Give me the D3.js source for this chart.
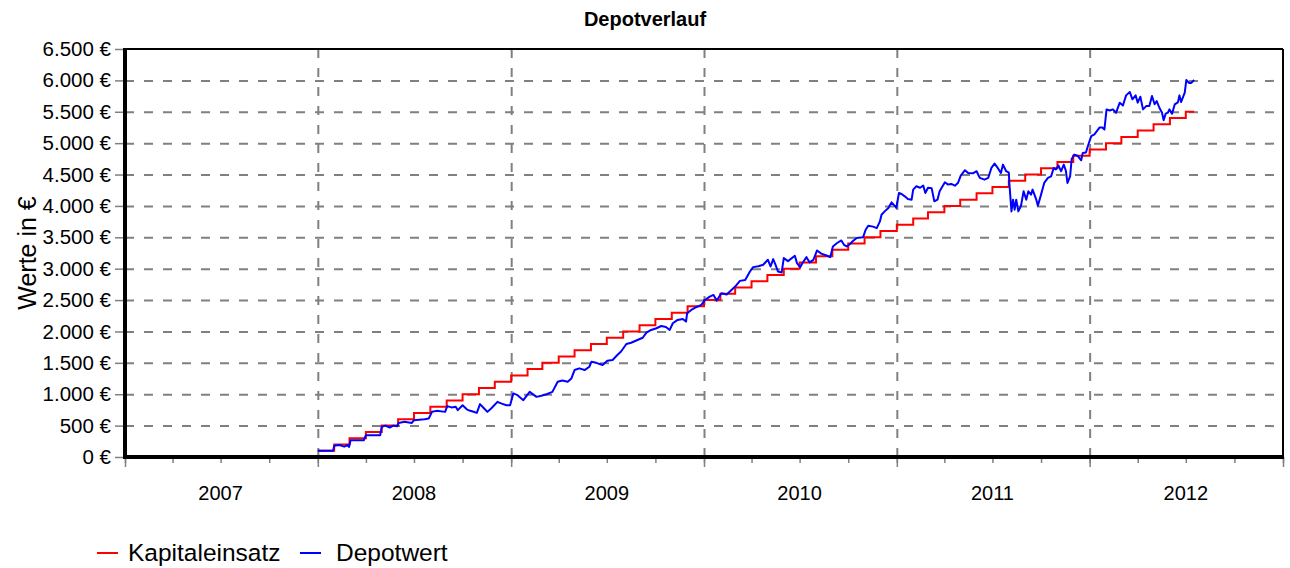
<!DOCTYPE html>
<html>
<head>
<meta charset="utf-8">
<script src="https://cdn.jsdelivr.net/npm/d3@7"></script>
<style>
  body { margin: 0; background: #fff; }
  text { font-family: Arial, "Liberation Sans", sans-serif; fill: #000; }
</style>
</head>
<body>
<div id="chart"></div>
<script>
// Kapitaleinsatz: one value per month, Jan 2008 .. Jul 2012 (100 € Sparplan)
var kapitalStart = "2008-01-01", kapitalEnde = "2012-07-17";
var kapitalWerte = [100, 200, 300, 400, 500, 600, 700, 800, 900, 1000, 1100, 1200,
    1300, 1400, 1500, 1600, 1700, 1800, 1900, 2000, 2100, 2200, 2300, 2400,
    2500, 2600, 2700, 2800, 2900, 3000, 3100, 3200, 3300, 3400, 3500, 3600,
    3700, 3800, 3900, 4000, 4100, 4200, 4300, 4400, 4500, 4600, 4700, 4800,
    4900, 5000, 5100, 5200, 5300, 5400, 5500];

// Depotwert
var depotwert = [
    ["2008-01-01", 100], ["2008-01-30", 100], ["2008-02-01", 180], ["2008-02-11", 190], ["2008-02-20", 165],
    ["2008-02-26", 190], ["2008-02-29", 160], ["2008-03-03", 267], ["2008-03-28", 267], ["2008-04-01", 347],
    ["2008-04-28", 347], ["2008-05-01", 480], ["2008-05-08", 500], ["2008-05-16", 470], ["2008-05-23", 500],
    ["2008-05-30", 490], ["2008-06-02", 543], ["2008-06-13", 560], ["2008-06-27", 543], ["2008-07-01", 586],
    ["2008-07-21", 600], ["2008-07-29", 613], ["2008-08-04", 720], ["2008-08-13", 735], ["2008-08-29", 719],
    ["2008-09-02", 810], ["2008-09-10", 790], ["2008-09-18", 800], ["2008-09-22", 746], ["2008-10-01", 825],
    ["2008-10-09", 760], ["2008-10-14", 740], ["2008-10-22", 720], ["2008-10-28", 703], ["2008-11-03", 842],
    ["2008-11-10", 780], ["2008-11-17", 719], ["2008-11-25", 780], ["2008-12-06", 879], ["2008-12-14", 850],
    ["2008-12-23", 825], ["2008-12-30", 825],
    ["2009-01-05", 1013], ["2009-01-12", 990], ["2009-01-24", 905], ["2009-02-05", 1038], ["2009-02-18", 958],
    ["2009-02-27", 975], ["2009-03-09", 1000], ["2009-03-20", 1038], ["2009-03-30", 1198], ["2009-04-08", 1220],
    ["2009-04-18", 1198], ["2009-04-25", 1252], ["2009-05-01", 1385], ["2009-05-10", 1412], ["2009-05-20", 1385],
    ["2009-05-29", 1438], ["2009-06-02", 1518], ["2009-06-11", 1500], ["2009-06-23", 1465], ["2009-07-02", 1533],
    ["2009-07-12", 1545], ["2009-07-21", 1624], ["2009-07-28", 1680], ["2009-08-07", 1800], ["2009-08-16", 1820],
    ["2009-08-28", 1864], ["2009-09-07", 1900], ["2009-09-14", 1980], ["2009-09-23", 2024], ["2009-10-03", 2051],
    ["2009-10-12", 2087], ["2009-10-21", 2070], ["2009-10-28", 2024], ["2009-11-03", 2130], ["2009-11-12", 2184],
    ["2009-11-22", 2200], ["2009-11-28", 2157], ["2009-11-30", 2290], ["2009-12-08", 2343], ["2009-12-17", 2386],
    ["2009-12-27", 2423],
    ["2010-01-03", 2503], ["2010-01-12", 2555], ["2010-01-19", 2582], ["2010-01-25", 2492], ["2010-02-03", 2609],
    ["2010-02-13", 2590], ["2010-02-22", 2662], ["2010-03-01", 2715], ["2010-03-10", 2806], ["2010-03-20", 2820],
    ["2010-03-29", 2955], ["2010-04-04", 3025], ["2010-04-14", 3040], ["2010-04-23", 3062], ["2010-05-02", 3142],
    ["2010-05-07", 3035], ["2010-05-12", 3153], ["2010-05-17", 3050], ["2010-05-21", 2955], ["2010-05-28", 2940],
    ["2010-06-01", 3169], ["2010-06-09", 3120], ["2010-06-22", 3205], ["2010-06-26", 3089], ["2010-07-02", 3025],
    ["2010-07-08", 3110], ["2010-07-14", 3184], ["2010-07-20", 3100], ["2010-07-27", 3140], ["2010-08-03", 3290],
    ["2010-08-11", 3240], ["2010-08-21", 3210], ["2010-08-28", 3184], ["2010-09-02", 3354], ["2010-09-10", 3409],
    ["2010-09-18", 3450], ["2010-09-23", 3380], ["2010-09-28", 3354], ["2010-10-04", 3390], ["2010-10-10", 3440],
    ["2010-10-17", 3488], ["2010-10-29", 3500], ["2010-11-03", 3620], ["2010-11-08", 3684], ["2010-11-17", 3670],
    ["2010-11-24", 3647], ["2010-11-30", 3753], ["2010-12-03", 3860], ["2010-12-09", 3913], ["2010-12-16", 3967],
    ["2010-12-22", 4056], ["2010-12-28", 4000], ["2010-12-31", 3967],
    ["2011-01-05", 4206], ["2011-01-10", 4190], ["2011-01-16", 4153], ["2011-01-22", 4110], ["2011-01-29", 4100],
    ["2011-02-01", 4260], ["2011-02-07", 4313], ["2011-02-14", 4290], ["2011-02-20", 4323], ["2011-02-24", 4206],
    ["2011-03-01", 4290], ["2011-03-08", 4280], ["2011-03-13", 4073], ["2011-03-19", 4100], ["2011-03-23", 4233],
    ["2011-04-02", 4377], ["2011-04-08", 4340], ["2011-04-14", 4350], ["2011-04-21", 4323], ["2011-04-27", 4370],
    ["2011-05-02", 4483], ["2011-05-10", 4569], ["2011-05-16", 4526], ["2011-05-25", 4520], ["2011-06-01", 4553],
    ["2011-06-07", 4446], ["2011-06-16", 4419], ["2011-06-23", 4446], ["2011-06-29", 4605], ["2011-07-05", 4674],
    ["2011-07-11", 4605], ["2011-07-17", 4526], ["2011-07-21", 4658], ["2011-07-27", 4553], ["2011-08-01", 4530],
    ["2011-08-02", 4366], ["2011-08-06", 3913], ["2011-08-09", 4100], ["2011-08-12", 3940], ["2011-08-15", 4100],
    ["2011-08-19", 3913], ["2011-08-24", 4000], ["2011-08-29", 4233], ["2011-09-03", 4100], ["2011-09-07", 4233],
    ["2011-09-12", 4180], ["2011-09-15", 4260], ["2011-09-22", 4100], ["2011-09-25", 4003], ["2011-10-01", 4180],
    ["2011-10-07", 4366], ["2011-10-14", 4446], ["2011-10-20", 4470], ["2011-10-25", 4605], ["2011-10-29", 4580],
    ["2011-11-03", 4642], ["2011-11-08", 4553], ["2011-11-13", 4658], ["2011-11-17", 4560], ["2011-11-20", 4366],
    ["2011-11-25", 4472], ["2011-11-28", 4749], ["2011-12-03", 4818], ["2011-12-09", 4800], ["2011-12-16", 4727],
    ["2011-12-19", 4845], ["2011-12-25", 4850], ["2011-12-29", 4962],
    ["2012-01-04", 5111], ["2012-01-10", 5140], ["2012-01-20", 5250], ["2012-01-25", 5250], ["2012-01-29", 5218],
    ["2012-02-02", 5538], ["2012-02-08", 5520], ["2012-02-14", 5538], ["2012-02-20", 5485], ["2012-02-27", 5645],
    ["2012-03-04", 5600], ["2012-03-10", 5761], ["2012-03-17", 5815], ["2012-03-22", 5698], ["2012-03-28", 5761],
    ["2012-04-01", 5645], ["2012-04-06", 5740], ["2012-04-11", 5538], ["2012-04-17", 5590], ["2012-04-23", 5590],
    ["2012-04-28", 5751], ["2012-05-03", 5620], ["2012-05-07", 5670], ["2012-05-12", 5564], ["2012-05-17", 5485],
    ["2012-05-20", 5367], ["2012-05-24", 5470], ["2012-05-28", 5485], ["2012-05-31", 5538], ["2012-06-05", 5470],
    ["2012-06-10", 5617], ["2012-06-16", 5650], ["2012-06-19", 5761], ["2012-06-22", 5655], ["2012-06-29", 5804],
    ["2012-07-02", 6006], ["2012-07-07", 5960], ["2012-07-11", 5960], ["2012-07-17", 6006]
];

var yTicks = [0, 500, 1000, 1500, 2000, 2500, 3000, 3500, 4000, 4500, 5000, 5500, 6000, 6500];
var jahre = [2007, 2008, 2009, 2010, 2011, 2012];
var legende = ["Kapitaleinsatz", "Depotwert"];
var farben = ["#ff0000", "#0000ff"];

// set the dimensions and margins of the graph
var margin = { top: 49, right: 7, bottom: 111, left: 125 },
    width = 1290 - margin.left - margin.right,
    height = 568 - margin.top - margin.bottom;

var root = d3.select("#chart")
    .append("svg")
    .attr("width", 1290)
    .attr("height", 568);

var svg = root.append("g")
    .attr("transform", "translate(" + margin.left + "," + margin.top + ")");

var parse = d3.timeParse("%Y-%m-%d");

var x = d3.scaleTime()
    .domain([new Date(2007, 0, 1), new Date(2013, 0, 1)])
    .range([0, width]);

var y = d3.scaleLinear()
    .domain([0, 6500])
    .range([height, 0]);

var de = d3.formatLocale({ decimal: ",", thousands: ".", grouping: [3], currency: ["", " €"] });
var euro = de.format("$,");

// grid
svg.append("g")
    .attr("class", "grid")
    .call(d3.axisLeft(y).tickValues(yTicks.slice(1, -1)).tickSize(-width).tickFormat(""));
svg.append("g")
    .attr("class", "grid")
    .attr("transform", "translate(0," + height + ")")
    .call(d3.axisBottom(x).tickValues(jahre.slice(1).map(function (j) { return new Date(j, 0, 1); }))
        .tickSize(-height).tickFormat(""));
svg.selectAll(".grid .domain").remove();
svg.selectAll(".grid line")
    .attr("stroke", "#808080")
    .attr("stroke-width", 2)
    .attr("stroke-dasharray", "9,10");

// Y axis
var yAxis = svg.append("g")
    .call(d3.axisLeft(y).tickValues(yTicks).tickSize(10).tickPadding(4).tickFormat(euro));
yAxis.select(".domain").remove();
yAxis.selectAll("line").attr("stroke", "#808080").attr("stroke-width", 1.5);
yAxis.selectAll("text").style("font-size", "20.5px").attr("fill", "#000");

// X axis: quarters (minor) and years (major)
var xMinor = svg.append("g")
    .attr("transform", "translate(0," + height + ")")
    .call(d3.axisBottom(x).ticks(d3.timeMonth.every(3)).tickSize(6).tickFormat(""));
var xMajor = svg.append("g")
    .attr("transform", "translate(0," + height + ")")
    .call(d3.axisBottom(x).ticks(d3.timeYear).tickSize(10).tickFormat(""));
svg.selectAll(".domain").remove();
xMinor.selectAll("line").attr("stroke", "#808080").attr("stroke-width", 1.5);
xMajor.selectAll("line").attr("stroke", "#808080").attr("stroke-width", 1.5);

// year labels centred in the middle of each year
svg.append("g").selectAll("text")
    .data(jahre)
    .enter()
    .append("text")
    .attr("x", function (d) { return x(new Date(d, 6, 1)); })
    .attr("y", height + 43)
    .attr("text-anchor", "middle")
    .style("font-size", "20px")
    .text(function (d) { return d; });

// lines
var kapital = d3.timeMonth.range(parse(kapitalStart), new Date(2012, 7, 1))
    .map(function (d, i) { return { date: d, value: kapitalWerte[i] }; });
kapital.push({ date: parse(kapitalEnde), value: kapitalWerte[kapitalWerte.length - 1] });

var depot = depotwert.map(function (d) { return { date: parse(d[0]), value: d[1] }; });

svg.append("path")
    .datum(kapital)
    .attr("fill", "none")
    .attr("stroke", farben[0])
    .attr("stroke-width", 2)
    .attr("d", d3.line().curve(d3.curveStepAfter)
        .x(function (d) { return x(d.date); })
        .y(function (d) { return y(d.value); }));

svg.append("path")
    .datum(depot)
    .attr("fill", "none")
    .attr("stroke", farben[1])
    .attr("stroke-width", 2)
    .attr("stroke-linejoin", "round")
    .attr("d", d3.line()
        .x(function (d) { return x(d.date); })
        .y(function (d) { return y(d.value); }));

// frame
svg.append("line").attr("x1", 0).attr("x2", width).attr("y1", 0).attr("y2", 0)
    .attr("stroke", "#000").attr("stroke-width", 2);
svg.append("line").attr("x1", width).attr("x2", width).attr("y1", 0).attr("y2", height)
    .attr("stroke", "#000").attr("stroke-width", 2);
svg.append("line").attr("x1", 0).attr("x2", 0).attr("y1", -1).attr("y2", height + 2)
    .attr("stroke", "#000").attr("stroke-width", 4);
svg.append("line").attr("x1", -2).attr("x2", width + 1).attr("y1", height).attr("y2", height)
    .attr("stroke", "#000").attr("stroke-width", 4);

// title and axis label
root.append("text")
    .attr("x", 645)
    .attr("y", 26)
    .attr("text-anchor", "middle")
    .style("font-size", "20px")
    .style("font-weight", "bold")
    .text("Depotverlauf");

root.append("text")
    .attr("transform", "translate(36," + (margin.top + height / 2) + ") rotate(-90)")
    .attr("text-anchor", "middle")
    .style("font-size", "25px")
    .text("Werte in €");

// legend
var leg = root.append("g").selectAll("g")
    .data(legende)
    .enter()
    .append("g")
    .attr("transform", function (d, i) { return "translate(" + (i === 0 ? 97 : 300) + ",553)"; });
leg.append("line")
    .attr("x1", 0).attr("x2", 21)
    .attr("stroke", function (d, i) { return farben[i]; })
    .attr("stroke-width", 2);
leg.append("text")
    .attr("x", function (d, i) { return i === 0 ? 31 : 36; })
    .attr("y", 8)
    .style("font-size", "24.5px")
    .text(function (d) { return d; });
</script>
</body>
</html>
